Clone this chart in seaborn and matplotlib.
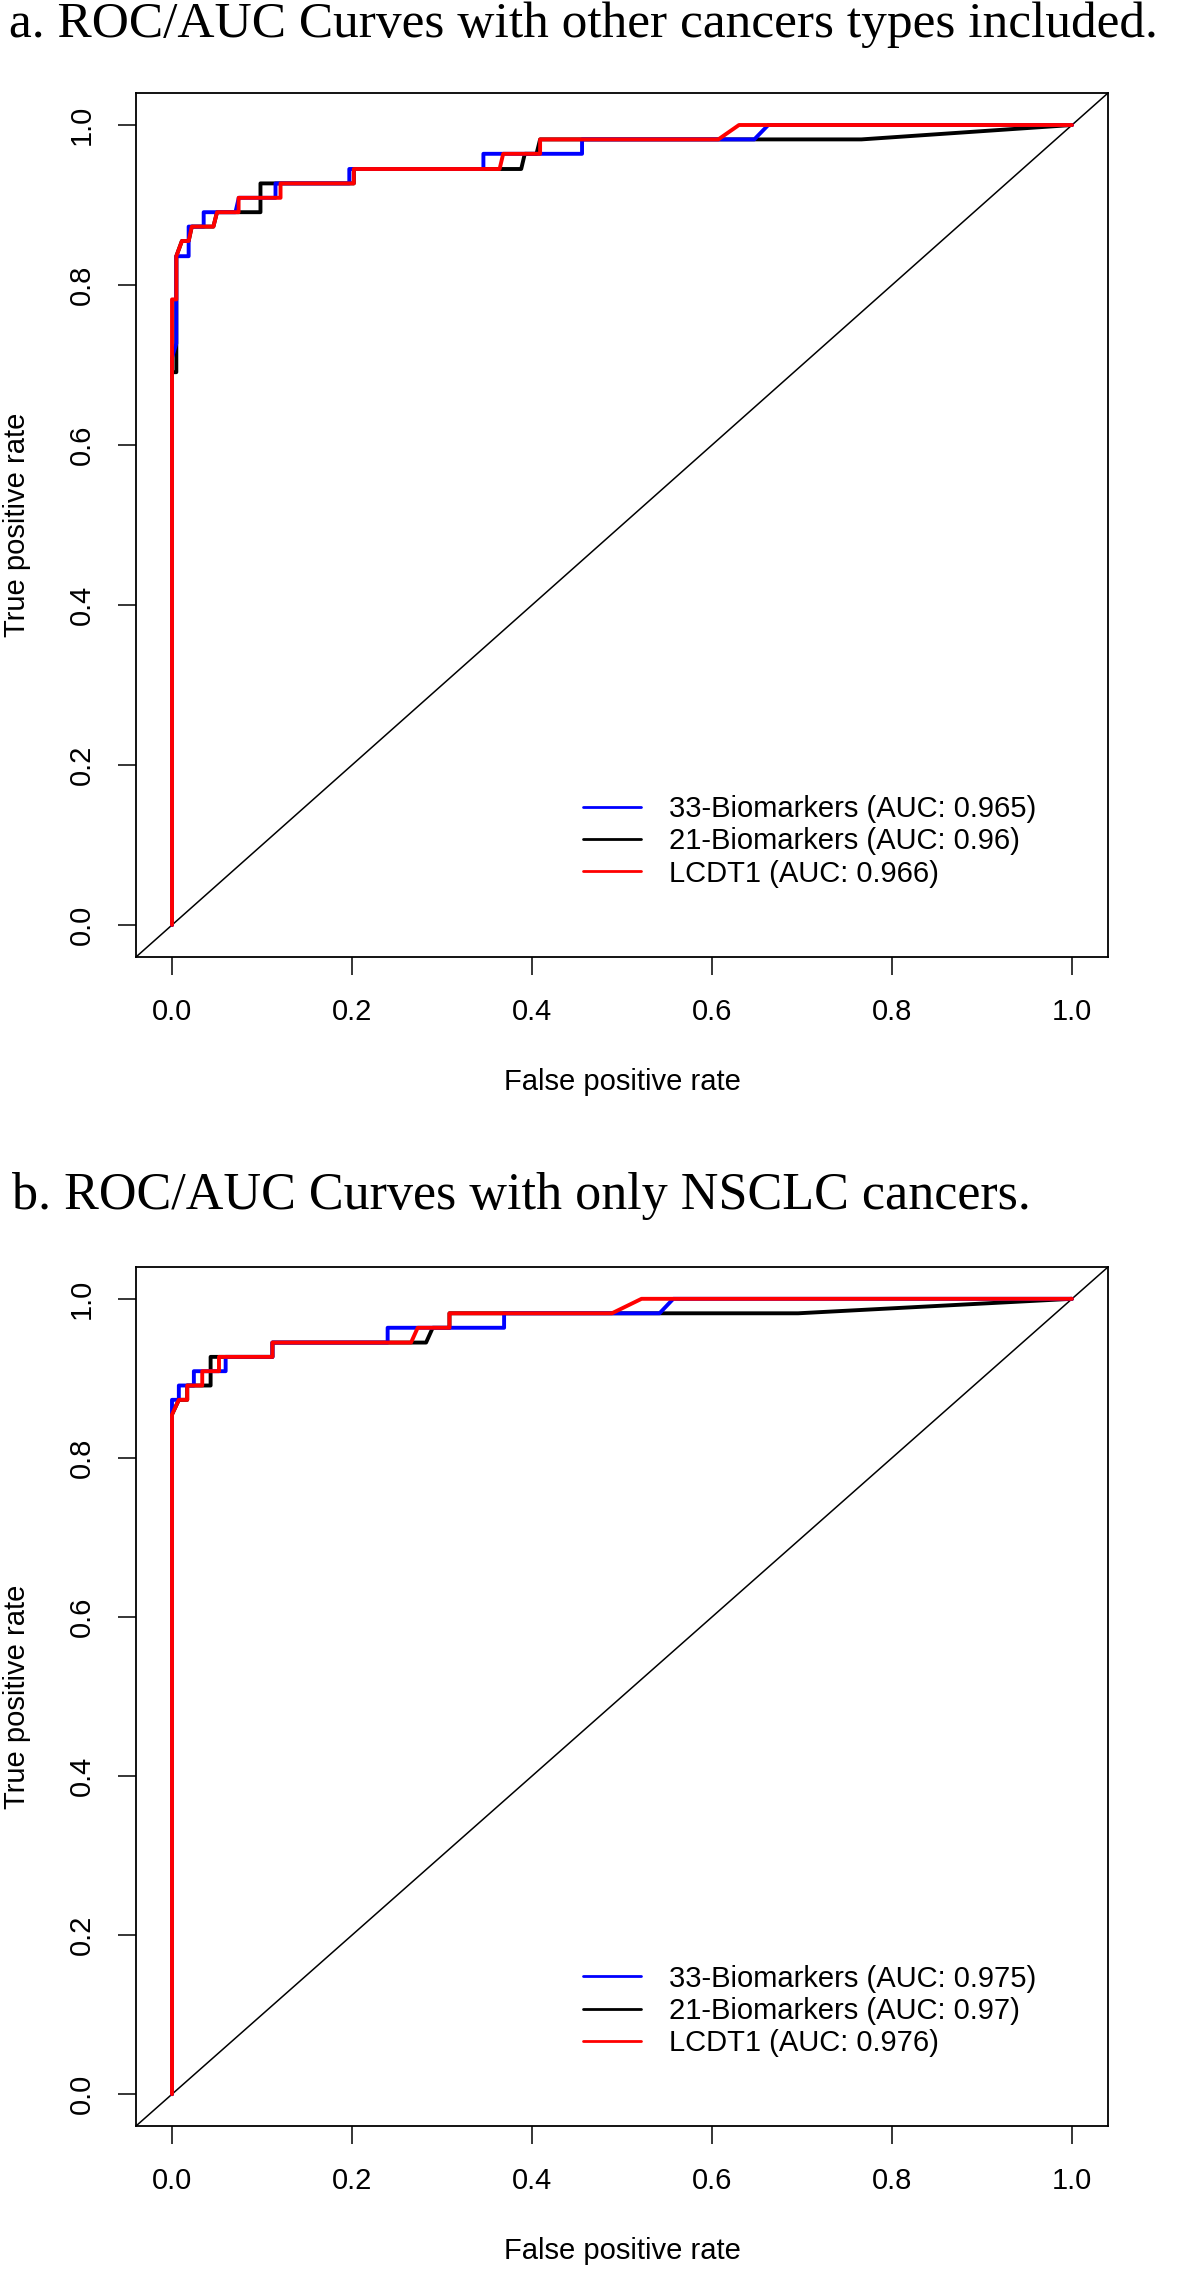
import numpy as np
import pandas as pd
import seaborn as sns
import matplotlib.pyplot as plt

sns.set_style('ticks')
plt.rcParams['font.family'] = ['Liberation Sans', 'DejaVu Sans']
plt.rcParams['text.color'] = 'black'
plt.rcParams['axes.labelcolor'] = 'black'
plt.rcParams['xtick.color'] = 'black'
plt.rcParams['ytick.color'] = 'black'

# model names, colours and AUC text for each panel
models = ['33-Biomarkers', '21-Biomarkers', 'LCDT1']
colors = {'33-Biomarkers': '#0000FF', '21-Biomarkers': '#000000', 'LCDT1': '#FF0000'}
auc_a = ['0.965', '0.96', '0.966']
auc_b = ['0.975', '0.97', '0.976']

# panel a - with other cancer types (step vertices)
fpr_a_33 = [0, 0, 0.0048, 0.0048, 0.0185, 0.0185, 0.0352, 0.0352, 0.0705, 0.0742, 0.115, 0.115,
            0.197, 0.197, 0.346, 0.346, 0.4556, 0.4556, 0.647, 0.6625, 1]
tpr_a_33 = [0, 0.709, 0.727, 0.836, 0.836, 0.873, 0.873, 0.891, 0.891, 0.909, 0.909, 0.927,
            0.927, 0.945, 0.945, 0.964, 0.964, 0.982, 0.982, 1, 1]
fpr_a_21 = [0, 0, 0.0048, 0.0048, 0.011, 0.0185, 0.022, 0.046, 0.050, 0.0983, 0.0983, 0.202,
            0.202, 0.388, 0.392, 0.405, 0.409, 0.766, 1]
tpr_a_21 = [0, 0.691, 0.691, 0.836, 0.855, 0.855, 0.873, 0.873, 0.891, 0.891, 0.927, 0.927,
            0.945, 0.945, 0.964, 0.964, 0.982, 0.982, 1]
fpr_a_lc = [0, 0, 0.0048, 0.0048, 0.011, 0.0185, 0.022, 0.046, 0.050, 0.074, 0.074, 0.1206,
            0.1206, 0.202, 0.202, 0.364, 0.368, 0.409, 0.409, 0.607, 0.630, 1]
tpr_a_lc = [0, 0.782, 0.782, 0.836, 0.855, 0.855, 0.873, 0.873, 0.891, 0.891, 0.909, 0.909,
            0.927, 0.927, 0.945, 0.945, 0.964, 0.964, 0.982, 0.982, 1, 1]

# panel b - NSCLC only
fpr_b_33 = [0, 0, 0.0076, 0.0076, 0.0243, 0.0243, 0.0596, 0.0596, 0.1116, 0.1116, 0.2396, 0.2396,
            0.369, 0.369, 0.5417, 0.557, 1]
tpr_b_33 = [0, 0.873, 0.873, 0.891, 0.891, 0.909, 0.909, 0.927, 0.927, 0.945, 0.945, 0.9636,
            0.9636, 0.9818, 0.9818, 1, 1]
fpr_b_21 = [0, 0, 0.0076, 0.0169, 0.0169, 0.0429, 0.0429, 0.1116, 0.1116, 0.2823, 0.2897, 0.3083,
            0.3083, 0.6957, 1]
tpr_b_21 = [0, 0.8545, 0.873, 0.873, 0.891, 0.891, 0.927, 0.927, 0.945, 0.945, 0.9636, 0.9636,
            0.9818, 0.9818, 1]
fpr_b_lc = [0, 0, 0.0076, 0.0169, 0.0169, 0.0336, 0.0336, 0.0522, 0.0522, 0.1116, 0.1116, 0.2656,
            0.273, 0.3083, 0.3083, 0.4888, 0.5217, 1]
tpr_b_lc = [0, 0.8545, 0.873, 0.873, 0.891, 0.891, 0.909, 0.909, 0.927, 0.927, 0.945, 0.945,
            0.9636, 0.9636, 0.9818, 0.9818, 1, 1]

ticks = [0.0, 0.2, 0.4, 0.6, 0.8, 1.0]
FS = 21


def roc_panel(ax, curves, aucs, xlab_y):
    # black first so blue and red sit on top of it
    for name in ['21-Biomarkers', '33-Biomarkers', 'LCDT1']:
        fpr, tpr = curves[name]
        df = pd.DataFrame({'fpr': fpr, 'tpr': tpr})
        sns.lineplot(data=df, x='fpr', y='tpr', sort=False, estimator=None,
                     color=colors[name], linewidth=2.8, ax=ax,
                     label=f'{name} (AUC: {aucs[models.index(name)]})')
    ax.axline((0, 0), slope=1, color='black', linewidth=1.1, zorder=1)

    ax.set_xlim(-0.04, 1.04)
    ax.set_ylim(-0.04, 1.04)
    ax.set_xticks(ticks)
    ax.set_yticks(ticks)
    ax.set_xticklabels([f'{t:.1f}' for t in ticks])
    ax.set_yticklabels([f'{t:.1f}' for t in ticks])
    ax.tick_params(length=13.3, width=1.1, labelsize=FS, pad=26, direction='out', color='black')
    plt.setp(ax.get_xticklabels(), va='center')
    plt.setp(ax.get_yticklabels(), rotation=90, ha='center', va='center')
    for sp in ax.spines.values():
        sp.set_visible(True)
        sp.set_color('black')
        sp.set_linewidth(1.3)

    ax.set_xlabel('False positive rate', fontsize=FS, va='center')
    ax.set_ylabel('True positive rate', fontsize=FS, va='center')
    ax.xaxis.set_label_coords(0.5, xlab_y)
    ax.yaxis.set_label_coords(-0.1224, 0.5)

    handles, labels = ax.get_legend_handles_labels()
    order = [1, 0, 2]
    leg = ax.legend([handles[i] for i in order], [labels[i] for i in order],
                    loc='center left', bbox_to_anchor=(0.46, 0.134), frameon=False,
                    fontsize=FS, handlelength=2.0, handletextpad=0.94, labelspacing=0.15,
                    borderpad=0, borderaxespad=0)
    for h in leg.get_lines():
        h.set_linewidth(2.0)


fig = plt.figure(figsize=(11.8, 22.7), dpi=100)
ax1 = fig.add_axes([136 / 1180, 1 - 957 / 2270, 972 / 1180, 864 / 2270])
ax2 = fig.add_axes([136 / 1180, 1 - 2126 / 2270, 972 / 1180, 859 / 2270])

roc_panel(ax1, {'33-Biomarkers': (fpr_a_33, tpr_a_33), '21-Biomarkers': (fpr_a_21, tpr_a_21),
                'LCDT1': (fpr_a_lc, tpr_a_lc)}, auc_a, -0.1447)
roc_panel(ax2, {'33-Biomarkers': (fpr_b_33, tpr_b_33), '21-Biomarkers': (fpr_b_21, tpr_b_21),
                'LCDT1': (fpr_b_lc, tpr_b_lc)}, auc_b, -0.1455)

fig.text(9 / 1180, 1 - 37 / 2270, 'a. ROC/AUC Curves with other cancers types included.',
         family=['Liberation Serif', 'DejaVu Serif'], fontsize=37, va='baseline', ha='left')
fig.text(12 / 1180, 1 - 1209 / 2270, 'b. ROC/AUC Curves with only NSCLC cancers.',
         family=['Liberation Serif', 'DejaVu Serif'], fontsize=37.5, va='baseline', ha='left')

fig.savefig('out.png', dpi=100)
